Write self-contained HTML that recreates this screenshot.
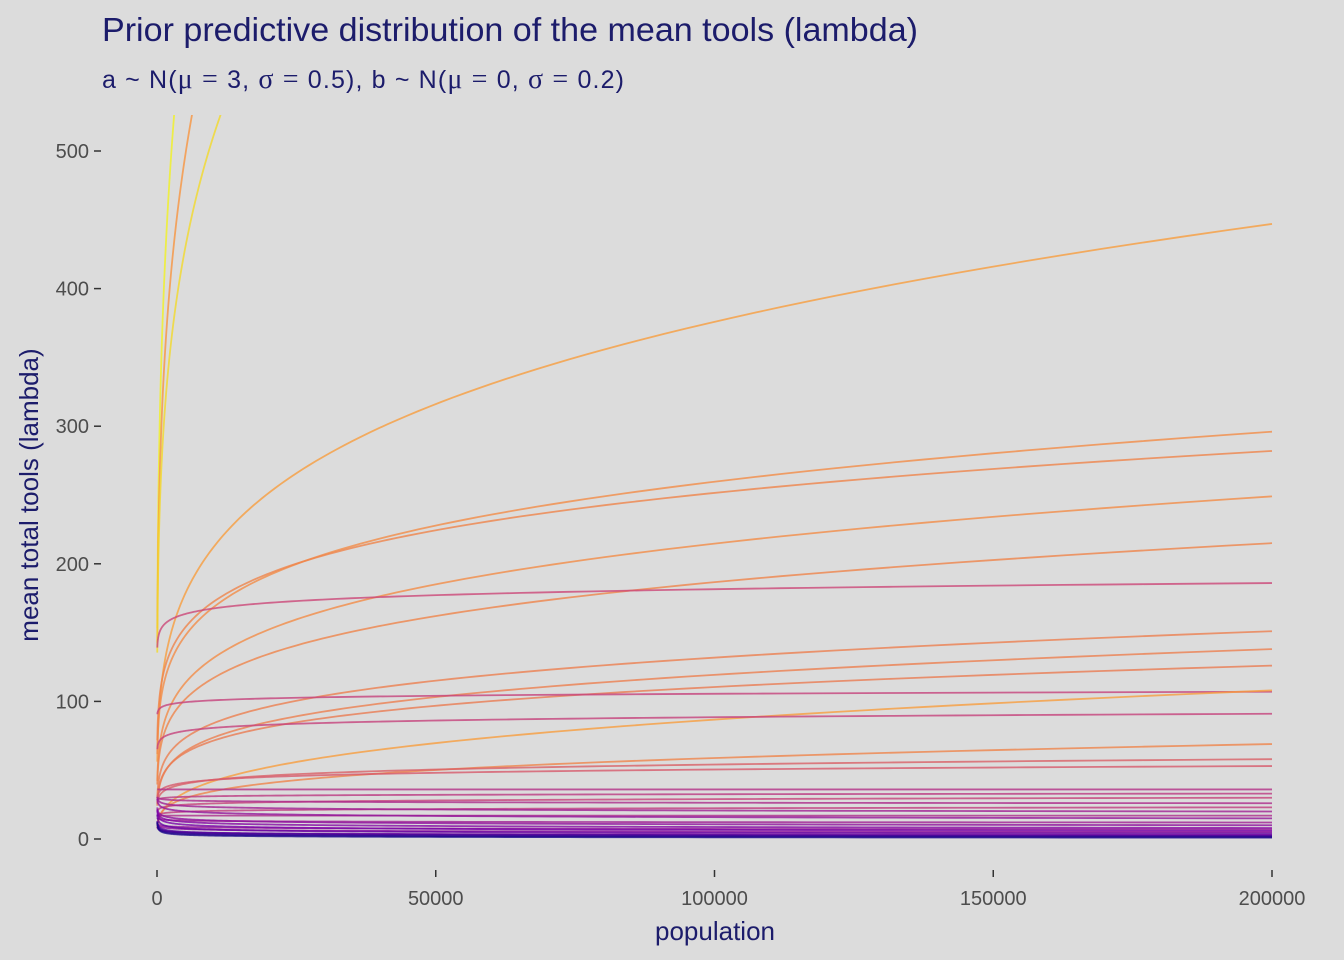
<!DOCTYPE html>
<html><head><meta charset="utf-8"><style>
body{margin:0;background:#dcdcdc;}
svg{display:block;font-family:"Liberation Sans",sans-serif;}
</style></head><body>
<svg id="chart" width="1344" height="960">
<rect width="1344" height="960" fill="#dcdcdc"/>
<text x="102" y="41" font-size="33" fill="#1c1c6b" textLength="816" lengthAdjust="spacingAndGlyphs">Prior predictive distribution of the mean tools (lambda)</text>
<text x="102" y="88" font-size="25" fill="#1c1c6b" textLength="522" lengthAdjust="spacing">a ~ N(<tspan font-family="Liberation Serif" font-size="28">μ = </tspan>3, <tspan font-family="Liberation Serif" font-size="28">σ = </tspan>0.5), b ~ N(<tspan font-family="Liberation Serif" font-size="28">μ = </tspan>0, <tspan font-family="Liberation Serif" font-size="28">σ = </tspan>0.2)</text>
<defs><clipPath id="pc"><rect x="100" y="115" width="1244" height="760"/></clipPath></defs>
<g id="lines" clip-path="url(#pc)"></g>
<g id="axes"></g>
<text x="715" y="940" font-size="26" fill="#1c1c6b" text-anchor="middle">population</text>
<text transform="translate(38,495) rotate(-90)" font-size="26" fill="#1c1c6b" text-anchor="middle">mean total tools (lambda)</text>
</svg>
<script>
const xTicks=[0,50000,100000,150000,200000];
const yTicks=[0,100,200,300,400,500];
// each line: value at population 200000, exponent b, colour level (0..1 plasma)
const endValues=[1842,1340,1077,447,296,282,249,215,186,151,138,126,107,108,91,69,58,53,36,33,30,26,23,20,17,15,12,10,8,7,6,5,4,3,2.5,2,1.5,1];
const slopes=[0.3,0.27,0.25,0.25,0.189,0.165,0.214,0.204,0.035,0.196,0.21,0.19,0.02,0.316,0.04,0.23,0.1,0.07,0.0,0.02,0.05,-0.02,0.04,-0.05,0.0,-0.08,-0.03,-0.1,-0.12,-0.06,-0.15,-0.1,-0.18,-0.13,-0.2,-0.22,-0.25,-0.3];
const colorLevels=[0.98,0.75,0.92,0.77,0.72,0.7,0.72,0.7,0.5,0.68,0.68,0.67,0.48,0.77,0.48,0.7,0.58,0.56,0.42,0.45,0.48,0.4,0.46,0.36,0.4,0.32,0.36,0.3,0.27,0.33,0.24,0.3,0.2,0.25,0.15,0.12,0.08,0.03];
const X=v=>157+v*(1272-157)/200000;
const Y=v=>839-v*(839-151)/500;
const NS="http://www.w3.org/2000/svg";
const stops=[[13,8,135],[126,3,168],[204,71,120],[248,149,64],[240,249,33]];
function plasma(t){t=Math.max(0,Math.min(1,t));const s=t*4,i=Math.min(3,Math.floor(s)),f=s-i;
return 'rgb('+stops[i].map((c,k)=>Math.round(c+(stops[i+1][k]-c)*f)).join(',')+')';}
const lg=document.getElementById('lines');
const L200=Math.log(200000);
const xs=[];
for(let k=0;k<=200;k++)xs.push(Math.exp(Math.log(50)+k*(L200-Math.log(50))/200));
for(let i=0;i<endValues.length;i++){
  const b=slopes[i],a=Math.log(endValues[i])-b*L200;
  let d='';
  xs.forEach((x,k)=>{let y=Math.exp(a+b*Math.log(x));y=Math.min(y,2000);
    d+=(k?'L':'M')+X(x).toFixed(2)+','+Y(y).toFixed(2);});
  const p=document.createElementNS(NS,'path');
  p.setAttribute('d',d);p.setAttribute('fill','none');p.setAttribute('stroke',plasma(colorLevels[i]));
  p.setAttribute('stroke-width','1.8');p.setAttribute('opacity','0.8');
  
  
  lg.appendChild(p);
}
const ax=document.getElementById('axes');
function mk(tag,attrs,txt){const e=document.createElementNS(NS,tag);for(const k in attrs)e.setAttribute(k,attrs[k]);if(txt!==undefined)e.textContent=txt;ax.appendChild(e);return e;}
yTicks.forEach(v=>{
  const t=mk('line',{x1:94,x2:101,y1:Y(v),y2:Y(v),stroke:'#333','stroke-width':1.5});
  
  
  const l=mk('text',{x:89,y:Y(v)+7,'font-size':20,fill:'#4d4d4d','text-anchor':'end'},v);
  
  
});
xTicks.forEach(v=>{
  const t=mk('line',{x1:X(v),x2:X(v),y1:870,y2:877,stroke:'#333','stroke-width':1.5});
  
  
  const l=mk('text',{x:X(v),y:905,'font-size':20,fill:'#4d4d4d','text-anchor':'middle'},v);
  
  
});
</script>
</body></html>
